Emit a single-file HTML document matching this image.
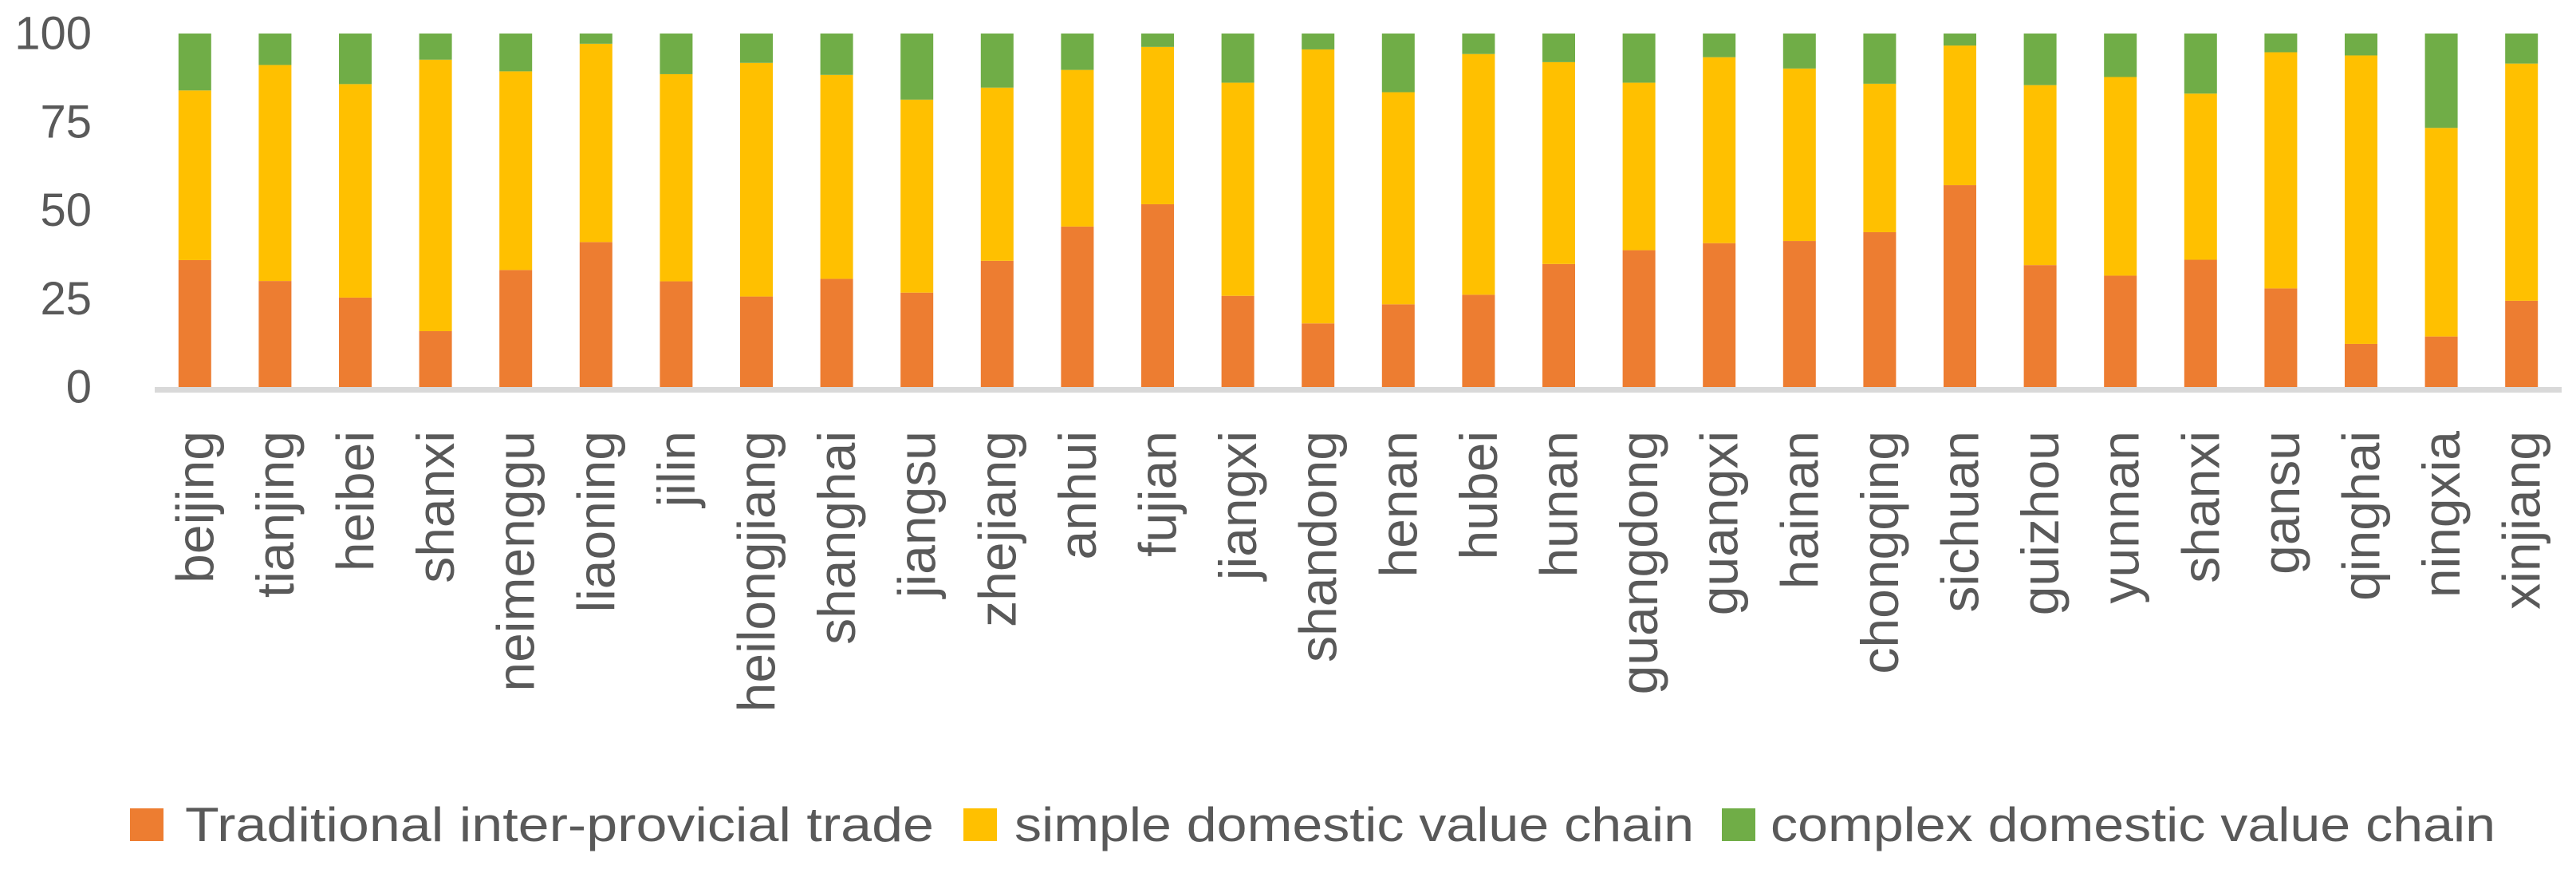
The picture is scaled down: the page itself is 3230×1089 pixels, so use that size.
<!DOCTYPE html>
<html><head><meta charset="utf-8"><style>
html,body{margin:0;padding:0;background:#fff;}
svg{display:block;font-family:"Liberation Sans",sans-serif;}
</style></head><body>
<svg id="chart" width="3230" height="1089" viewBox="0 0 3230 1089" xmlns="http://www.w3.org/2000/svg">
<g id="yaxis"></g>
<g id="bars"></g>
<rect x="194" y="485" width="3018" height="7" fill="#D9D9D9"/>
<g id="xlabels"></g>
<g>
 <g>
  <rect x="163" y="1013" width="42" height="41" fill="#ED7D31"/>
  <text x="232" y="1054" font-size="60" fill="#595959" textLength="939" lengthAdjust="spacingAndGlyphs">Traditional inter-provicial trade</text>
 </g>
 <g>
  <rect x="1208" y="1013" width="42" height="41" fill="#FFC000"/>
  <text x="1272" y="1054" font-size="60" fill="#595959" textLength="852" lengthAdjust="spacingAndGlyphs">simple domestic value chain</text>
 </g>
 <g>
  <rect x="2159" y="1013" width="42" height="41" fill="#70AD47"/>
  <text x="2220" y="1054" font-size="60" fill="#595959" textLength="909" lengthAdjust="spacingAndGlyphs">complex domestic value chain</text>
 </g>
</g>
</svg>
<script>
const categories = ["beijing","tianjing","heibei","shanxi","neimenggu","liaoning","jilin","heilongjiang","shanghai","jiangsu","zhejiang","anhui","fujian","jiangxi","shandong","henan","hubei","hunan","guangdong","guangxi","hainan","chongqing","sichuan","guizhou","yunnan","shanxi","gansu","qinghai","ningxia","xinjiang"];
const traditional = [35.9,30.0,25.3,15.8,33.1,41.0,29.9,25.6,30.6,26.7,35.7,45.4,51.7,25.8,18.0,23.4,26.1,34.8,38.7,40.7,41.3,43.8,57.1,34.5,31.5,36.0,27.9,12.2,14.3,24.4];
const simple = [48.0,61.1,60.4,76.8,56.2,56.1,58.6,66.1,57.7,54.6,49.0,44.3,44.5,60.3,77.5,60.0,68.1,57.1,47.4,52.6,48.8,42.0,39.5,50.9,56.2,47.0,66.8,81.6,59.0,67.1];
const complexVC = [16.1,8.9,14.3,7.4,10.7,2.9,11.5,8.3,11.7,18.7,15.3,10.3,3.8,13.9,4.5,16.6,5.8,8.1,13.9,6.7,9.9,14.2,3.4,14.6,12.3,17.0,5.3,6.2,26.7,8.5];
const yTicks = [0,25,50,75,100];

const NS="http://www.w3.org/2000/svg";
const X0=194, X1=3212, Y0=485, Y100=42;
const step=(X1-X0)/categories.length, barW=41;
function yScale(v){return Y0-(v/100)*(Y0-Y100);}
function xCenter(i){return X0+step*(i+0.5);}
function mk(tag,attrs){const e=document.createElementNS(NS,tag);for(const k in attrs)e.setAttribute(k,attrs[k]);return e;}

const yaxis=document.getElementById('yaxis');
yTicks.forEach(t=>{
  const tx=mk('text',{x:115,y:yScale(t),'font-size':58,fill:'#595959','text-anchor':'end','dominant-baseline':'central'});
  
  
  tx.textContent=t;yaxis.appendChild(tx);
});

const bars=document.getElementById('bars');
const series=[[traditional,'#ED7D31','traditional'],[simple,'#FFC000','simple'],[complexVC,'#70AD47','complex']];
categories.forEach((c,i)=>{
  let base=0;
  series.forEach(([arr,col,nm])=>{
    const v=arr[i];
    const r=mk('rect',{x:xCenter(i)-barW/2,y:yScale(base+v),width:barW,height:yScale(base)-yScale(base+v),fill:col});
    
    
    bars.appendChild(r);
    base+=v;
  });
});

const xl=document.getElementById('xlabels');
categories.forEach((c,i)=>{
  const x=xCenter(i), y=540;
  const tx=mk('text',{x:x,y:y,'font-size':66,fill:'#595959','text-anchor':'end','dominant-baseline':'central',transform:`rotate(-90 ${x} ${y})`});
  
  
  tx.textContent=c;xl.appendChild(tx);
});
</script>
</body></html>
